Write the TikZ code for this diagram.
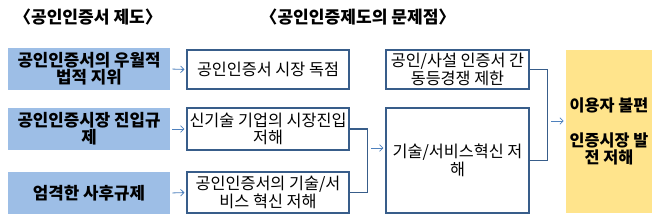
\documentclass[tikz,border=0pt]{standalone}
\usepackage{fontspec}
\setmainfont{Noto Sans CJK KR}
\usetikzlibrary{arrows.meta,positioning}
\definecolor{causeblue}{RGB}{157,190,230}
\definecolor{effectyellow}{RGB}{255,228,140}
\definecolor{frameblue}{RGB}{56,93,138}
\definecolor{tipblue}{RGB}{79,129,189}

\begin{document}
\begin{tikzpicture}[
  x=0.75pt, y=-0.75pt,
  title/.style={font=\bfseries\fontsize{12.8}{13}\selectfont, inner sep=0pt},
  cause/.style={fill=causeblue, align=center, inner sep=1pt,
                font=\bfseries\fontsize{12.6}{13}\selectfont,
                minimum width=121.5pt, minimum height=31pt},
  prob/.style={draw=frameblue, line width=0.8pt, fill=white, align=center,
               inner sep=0.5pt, font=\fontsize{12.2}{13}\selectfont},
  effect/.style={fill=effectyellow, align=center, inner sep=1pt,
                 font=\bfseries\fontsize{12.2}{13}\selectfont,
                 minimum width=64.5pt, minimum height=122.25pt},
  arr/.style={-{Straight Barb[length=2.5pt,width=5pt]}, draw=tipblue, line width=0.6pt,
              shorten <=1.5pt, shorten >=1.5pt},
  link/.style={draw=frameblue, line width=0.8pt}
]
\useasboundingbox (0,0) rectangle (659,222);

% headings
\node[title] (hcause) at (88,17) {〈공인인증서 제도〉};
\node[title] (hprob) at (358,17) {〈공인인증제도의 문제점〉};

% causes
\node[cause] (c1) at (89,69) {공인인증서의 우월적\\ 법적 지위};
\node[cause] (c2) at (89,129) {공인인증시장 진입규\\ 제};
\node[cause] (c3) at (89,193) {엄격한 사후규제};

% problems
\node[prob, minimum width=121.5pt, minimum height=29.25pt] (p1) at (268,69.5)
  {공인인증서 시장 독점};
\node[prob, minimum width=121.5pt, minimum height=31.5pt] (p2) at (268,129)
  {신기술 기업의 시장진입\\ 저해};
\node[prob, minimum width=121.5pt, minimum height=30.75pt] (p3) at (268,192.5)
  {공인인증서의 기술/서\\ 비스 혁신 저해};
\node[prob, minimum width=107.25pt, minimum height=29.25pt] (compete) at (457.5,69.5)
  {공인/사설 인증서 간\\ 동등경쟁 제한};
\node[prob, minimum width=107.25pt, minimum height=78.75pt] (innov) at (457.5,160.5)
  {기술/서비스혁신 저\\ 해};

% effect
\node[effect] (user) at (609,131.5) {이용자 불편\\[13pt] 인증시장 발\\ 전 저해};

% connectors
\draw[arr] (c1.east) -- (p1.west);
\draw[arr] (c2.east) -- (p2.west);
\draw[arr] (c3.east) -- (p3.west);
\draw[link] (p2.east) -- ++(18,0) |- (p3.east);
\coordinate (j1) at (369,148);
\draw[arr] (j1) -- (j1 -| innov.west);
\draw[link] (compete.east) -- ++(18,0) |- (innov.east);
\coordinate (j2) at (549,121);
\draw[arr] (j2) -- (j2 -| user.west);
\end{tikzpicture}
\end{document}
